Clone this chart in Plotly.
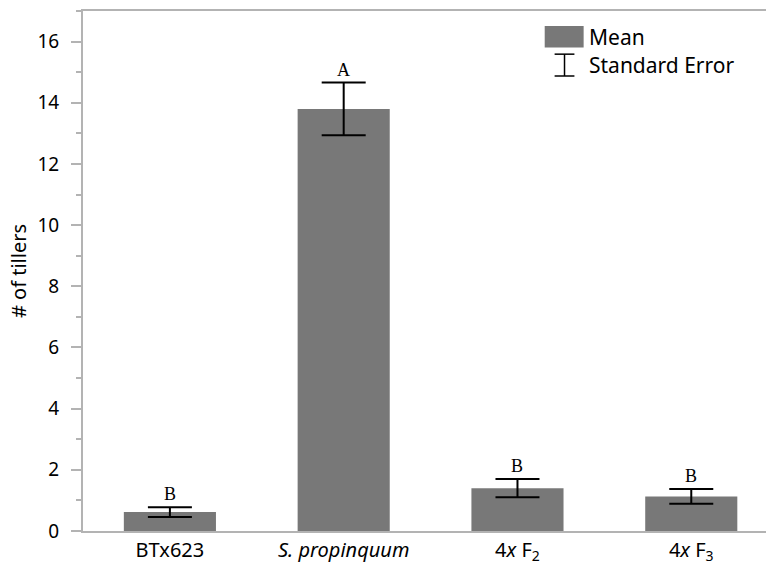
import plotly.graph_objects as go

# Tiller counts per line: mean, standard error and significance group
categories = ["BTx623", "<i>S. propinquum</i>", "4<i>x</i> F<sub>2</sub>", "4<i>x</i> F<sub>3</sub>"]
means = [0.62, 13.80, 1.40, 1.13]
std_err = [0.16, 0.86, 0.30, 0.24]
groups = ["B", "A", "B", "B"]
y_ticks = [0, 2, 4, 6, 8, 10, 12, 14, 16]

BAR = "#787878"
AXIS = "#b3b3b3"
FONT = "Noto Sans"

x_idx = list(range(len(categories)))

fig = go.Figure()
fig.add_trace(go.Bar(
    x=x_idx, y=means,
    marker=dict(color=BAR, line=dict(width=0)),
    error_y=dict(type="data", array=std_err, visible=True,
                 color="black", thickness=2, width=22),
    showlegend=False,
))

# significance letters above each error bar
for xi, m, s, g in zip(x_idx, means, std_err, groups):
    fig.add_annotation(x=xi, y=m + s, text=g, showarrow=False,
                       yanchor="bottom", yshift=1,
                       font=dict(family="Liberation Serif", size=18, color="black"))

# hand-built legend: filled swatch for the mean, I-beam for the error
fig.add_shape(type="rect", xref="paper", yref="paper",
              x0=0.676, x1=0.733, y0=0.930, y1=0.971,
              fillcolor=BAR, line=dict(width=0))
ib_x, ib_top, ib_bot, ib_half = 0.705, 0.917, 0.875, 0.0145
for seg in [(ib_x, ib_top, ib_x, ib_bot),
            (ib_x - ib_half, ib_top, ib_x + ib_half, ib_top),
            (ib_x - ib_half, ib_bot, ib_x + ib_half, ib_bot)]:
    fig.add_shape(type="line", xref="paper", yref="paper",
                  x0=seg[0], y0=seg[1], x1=seg[2], y1=seg[3],
                  line=dict(color="black", width=1.5))
fig.add_annotation(xref="paper", yref="paper", x=0.738, y=0.950,
                   text="Mean", showarrow=False, xanchor="left", yanchor="middle",
                   font=dict(family=FONT, size=21, color="black"))
fig.add_annotation(xref="paper", yref="paper", x=0.738, y=0.896,
                   text="Standard Error", showarrow=False, xanchor="left", yanchor="middle",
                   font=dict(family=FONT, size=21, color="black"))

fig.update_layout(
    width=766, height=565,
    margin=dict(l=83, r=0, t=11, b=34),
    paper_bgcolor="white", plot_bgcolor="white",
    bargap=0.47,
    font=dict(family=FONT, size=20, color="black"),
    xaxis=dict(
        range=[-0.5, 3.43],
        tickmode="array", tickvals=x_idx, ticktext=categories,
        showline=True, linecolor=AXIS, linewidth=2, mirror=True,
        ticks="", showgrid=False, zeroline=False,
        tickfont=dict(family=FONT, size=20, color="black"),
    ),
    yaxis=dict(
        range=[0, 17],
        tickmode="array", tickvals=y_ticks,
        showline=True, linecolor=AXIS, linewidth=2,
        ticks="outside", ticklen=10, tickcolor=AXIS, tickwidth=2,
        ticklabelstandoff=8,
        minor=dict(dtick=1, tick0=0, ticks="outside", ticklen=5,
                   tickcolor=AXIS, tickwidth=2, showgrid=False),
        showgrid=False, zeroline=False,
        title=dict(text="# of tillers", standoff=5,
                   font=dict(family=FONT, size=20, color="black")),
        tickfont=dict(family=FONT, size=19, color="black"),
    ),
)

fig.write_html("out.html")
